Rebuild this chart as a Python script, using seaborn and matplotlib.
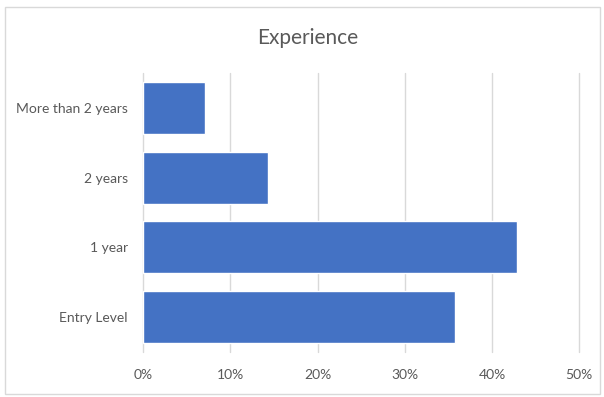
import matplotlib
matplotlib.use("Agg")
import matplotlib.pyplot as plt
import seaborn as sns
import pandas as pd
from matplotlib.patches import Rectangle
from matplotlib.ticker import PercentFormatter, MultipleLocator

categories = ["More than 2 years", "2 years", "1 year", "Entry Level"]
shares = [7.14, 14.29, 42.86, 35.71]

df = pd.DataFrame({"experience": categories, "share": shares})

sns.set_style("white")
plt.rcParams["font.family"] = ["Lato", "DejaVu Sans"]

text_color = "#595959"
grid_color = "#D9D9D9"

fig = plt.figure(figsize=(6.04, 3.97), dpi=100)
ax = fig.add_axes([0.237, 0.113, 0.722, 0.703])

sns.barplot(data=df, x="share", y="experience", color="#4472C4",
            saturation=1, width=0.745, ax=ax, zorder=3)

ax.set_xlim(0, 50)
ax.set_ylim(3.5, -0.5)
ax.xaxis.set_major_locator(MultipleLocator(10))
ax.xaxis.set_major_formatter(PercentFormatter(decimals=0))
ax.grid(axis="x", color=grid_color, linewidth=1, zorder=0)
for line in ax.get_xgridlines():
    line.set_clip_on(False)
for side in ["top", "right", "bottom", "left"]:
    ax.spines[side].set_visible(False)
ax.tick_params(axis="both", length=0, labelsize=10, colors=text_color)
ax.tick_params(axis="x", pad=12)
ax.tick_params(axis="y", pad=11)
ax.set_xlabel("")
ax.set_ylabel("")

fig.text(0.51, 0.905, "Experience", ha="center", va="center",
         fontsize=15, color=text_color)

fig.patches.append(Rectangle((5 / 604, 3 / 397), 595 / 604, 387 / 397,
                             transform=fig.transFigure, fill=False,
                             edgecolor=grid_color, linewidth=1))

fig.savefig("out.png", dpi=100)
plt.close(fig)
